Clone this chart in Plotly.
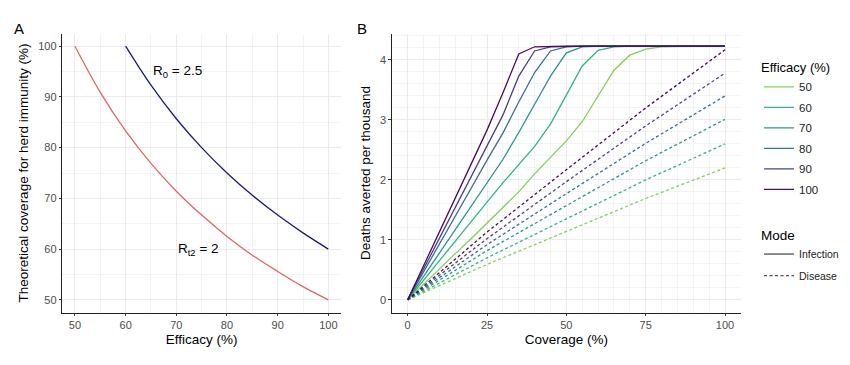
import plotly.graph_objects as go

# ---------------- Panel A data ----------------
eff_a_red = [50, 55, 60, 65, 70, 75, 80, 85, 90, 95, 100]
cov_red = [100, 90.9, 83.3, 76.9, 71.4, 66.7, 62.5, 58.8, 55.6, 52.6, 50]
eff_a_blue = [60, 65, 70, 75, 80, 85, 90, 95, 100]
cov_blue = [100, 92.3, 85.7, 80.0, 75.0, 70.6, 66.7, 63.2, 60.0]

# ---------------- Panel B data ----------------
coverage = [0, 5, 10, 15, 20, 25, 30, 35, 40, 45, 50, 55, 60, 65, 70, 75, 80, 85, 90, 95, 100]
efficacies = ["50", "60", "70", "80", "90", "100"]
inf_50 = [0, 0.26, 0.51, 0.77, 1.02, 1.28, 1.55, 1.80, 2.10, 2.37, 2.65, 2.97, 3.40, 3.83, 4.08, 4.18, 4.22, 4.23, 4.23, 4.23, 4.23]
inf_60 = [0, 0.33, 0.65, 0.98, 1.30, 1.63, 1.95, 2.25, 2.56, 2.93, 3.42, 3.90, 4.16, 4.22, 4.23, 4.23, 4.23, 4.23, 4.23, 4.23, 4.23]
inf_70 = [0, 0.39, 0.78, 1.17, 1.56, 1.95, 2.34, 2.79, 3.25, 3.73, 4.12, 4.22, 4.23, 4.23, 4.23, 4.23, 4.23, 4.23, 4.23, 4.23, 4.23]
inf_80 = [0, 0.46, 0.92, 1.39, 1.86, 2.33, 2.78, 3.30, 3.79, 4.15, 4.22, 4.23, 4.23, 4.23, 4.23, 4.23, 4.23, 4.23, 4.23, 4.23, 4.23]
inf_90 = [0, 0.51, 1.03, 1.54, 2.06, 2.57, 3.08, 3.73, 4.15, 4.22, 4.23, 4.23, 4.23, 4.23, 4.23, 4.23, 4.23, 4.23, 4.23, 4.23, 4.23]
inf_100 = [0, 0.57, 1.13, 1.70, 2.26, 2.83, 3.45, 4.10, 4.22, 4.23, 4.23, 4.23, 4.23, 4.23, 4.23, 4.23, 4.23, 4.23, 4.23, 4.23, 4.23]

coverage_dis = [0, 25, 50, 75, 100]
dis_50 = [0, 0.59, 1.14, 1.69, 2.20]
dis_60 = [0, 0.70, 1.35, 2.00, 2.60]
dis_70 = [0, 0.82, 1.57, 2.32, 3.01]
dis_80 = [0, 0.92, 1.77, 2.61, 3.40]
dis_90 = [0, 1.02, 1.97, 2.90, 3.78]
dis_100 = [0, 1.13, 2.17, 3.20, 4.17]

infection = [inf_50, inf_60, inf_70, inf_80, inf_90, inf_100]
disease = [dis_50, dis_60, dis_70, dis_80, dis_90, dis_100]
colors = ["#7AD151", "#2DB27D", "#21918C", "#31688E", "#443A83", "#440154"]

FONT = "Liberation Sans, Arial, Helvetica, sans-serif"
W, H = 850, 365
OFF = 8  # page body margin offset


def px_x(p):
    return (p - OFF) / W


def px_y(p):
    return 1 - (p - OFF) / H


fig = go.Figure()

# Panel A
fig.add_trace(go.Scatter(x=eff_a_red, y=cov_red, mode="lines", line=dict(color="#E06666", width=1.3, shape="spline"),
                         showlegend=False, xaxis="x", yaxis="y"))
fig.add_trace(go.Scatter(x=eff_a_blue, y=cov_blue, mode="lines", line=dict(color="#1A1A7E", width=1.3, shape="spline"),
                         showlegend=False, xaxis="x", yaxis="y"))

# Panel B
for name, vals, col in zip(efficacies, infection, colors):
    fig.add_trace(go.Scatter(x=coverage, y=vals, mode="lines", name=name, legendgroup="e" + name,
                             line=dict(color=col, width=1.3), legend="legend",
                             xaxis="x2", yaxis="y2", opacity=0.95))
for name, vals, col in zip(efficacies, disease, colors):
    fig.add_trace(go.Scatter(x=coverage_dis, y=vals, mode="lines", name=name, showlegend=False,
                             legendgroup="e" + name,
                             line=dict(color=col, width=1.3, dash="3px,2.5px"),
                             xaxis="x2", yaxis="y2", opacity=0.95))

# Mode legend entries
fig.add_trace(go.Scatter(x=[None], y=[None], mode="lines", name="Infection", legendgroup="mi",
                         line=dict(color="#4D4D4D", width=1.3), legend="legend2", xaxis="x2", yaxis="y2"))
fig.add_trace(go.Scatter(x=[None], y=[None], mode="lines", name="Disease", legendgroup="md",
                         line=dict(color="#4D4D4D", width=1.3, dash="3px,2.5px"), legend="legend2", xaxis="x2", yaxis="y2"))

axis_common = dict(showline=True, linecolor="#222222", linewidth=1, ticks="outside", ticklen=2.5,
                   tickcolor="#333333", tickfont=dict(size=11, color="#4D4D4D", family=FONT),
                   gridcolor="#EBEBEB", gridwidth=1, zeroline=False, mirror=False, automargin=False,
                   title_font=dict(size=13.5, color="#000000", family=FONT),
                   minor=dict(showgrid=True, gridcolor="#F3F3F3", gridwidth=0.6, ticks=""))

ydom = [px_y(312.5), px_y(33.5)]
fig.update_layout(
    width=W, height=H,
    margin=dict(l=0, r=0, t=0, b=0, autoexpand=False),
    paper_bgcolor="white", plot_bgcolor="white",
    font=dict(family=FONT),
    xaxis=dict(domain=[px_x(62.3), px_x(341)], range=[47.5, 102.5], tickvals=[50, 60, 70, 80, 90, 100],
               title=dict(text="Efficacy (%)", standoff=4), anchor="y", **axis_common),
    yaxis=dict(domain=ydom, range=[47.5, 102.5], tickvals=[50, 60, 70, 80, 90, 100],
               title=dict(text="Theoretical coverage for herd immunity (%)", standoff=6), anchor="x", **axis_common),
    xaxis2=dict(domain=[px_x(391.8), px_x(740.9)], range=[-5, 105], tickvals=[0, 25, 50, 75, 100],
                title=dict(text="Coverage (%)", standoff=4), anchor="y2", **axis_common),
    yaxis2=dict(domain=ydom, range=[-0.2115, 4.4415], tickvals=[0, 1, 2, 3, 4],
                title=dict(text="Deaths averted per thousand", standoff=6), anchor="x2", **axis_common),
    legend=dict(x=px_x(759), y=px_y(55.5), xanchor="left", yanchor="top", tracegroupgap=1.5,
                title=dict(text="Efficacy (%)", font=dict(size=13, color="#000000", family=FONT)),
                font=dict(size=11.5, color="#222222", family=FONT), itemwidth=30, bgcolor="rgba(0,0,0,0)"),
    legend2=dict(x=px_x(759), y=px_y(222), xanchor="left", yanchor="top", tracegroupgap=2.5,
                 title=dict(text="Mode", font=dict(size=13.5, color="#000000", family=FONT)),
                 font=dict(size=10.5, color="#222222", family=FONT), itemwidth=30, bgcolor="rgba(0,0,0,0)"),
    annotations=[
        dict(text="A", x=px_x(12), y=px_y(28), xref="paper", yref="paper", showarrow=False,
             font=dict(size=15, color="#000", family=FONT), xanchor="left", yanchor="middle"),
        dict(text="B", x=px_x(355), y=px_y(28), xref="paper", yref="paper", showarrow=False,
             font=dict(size=15, color="#000", family=FONT), xanchor="left", yanchor="middle"),
        dict(text="R<sub>0</sub> = 2.5", x=65, y=95, xref="x", yref="y", showarrow=False,
             font=dict(size=13.5, color="#000", family=FONT), xanchor="left", yanchor="middle"),
        dict(text="R<sub>t2</sub> = 2", x=70, y=60, xref="x", yref="y", showarrow=False,
             font=dict(size=13.5, color="#000", family=FONT), xanchor="left", yanchor="middle"),
    ],
)

fig.write_html("out.html")
